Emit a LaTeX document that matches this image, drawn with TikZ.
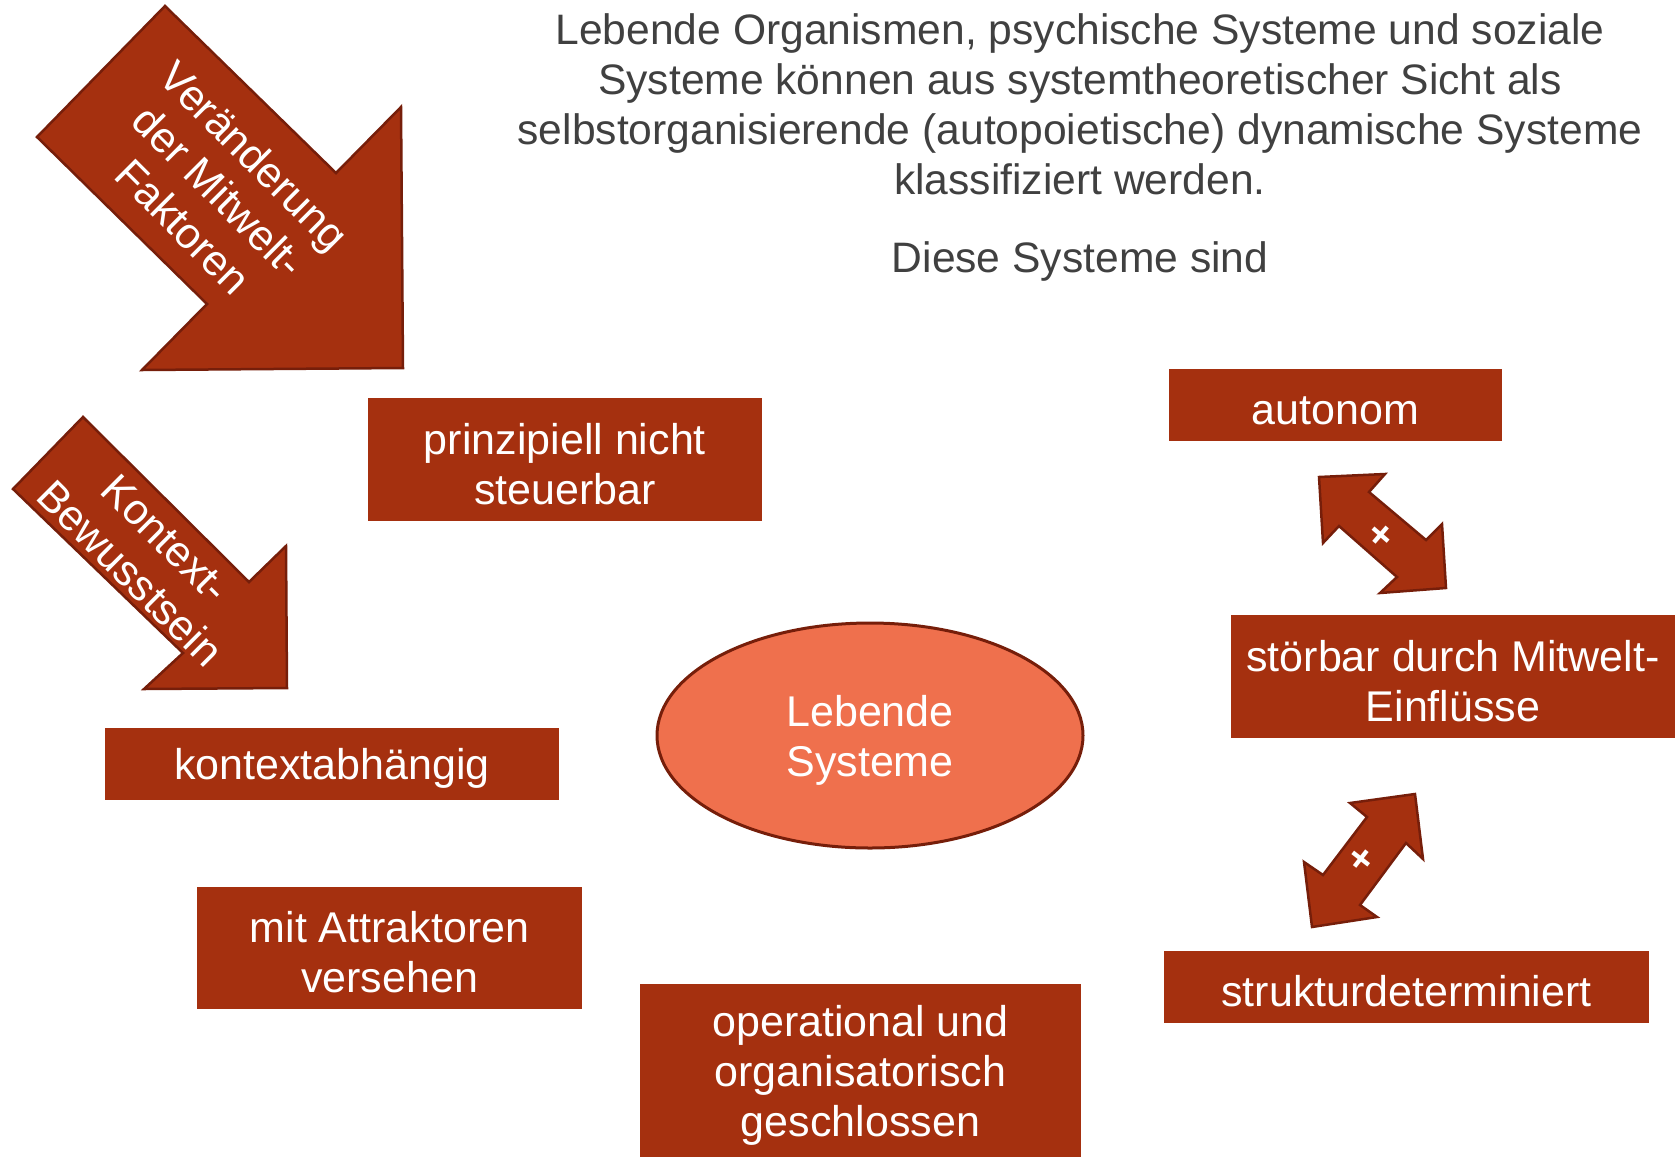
\documentclass[tikz,border=0pt]{standalone}
\usepackage{fontspec}
\setmainfont{Liberation Sans}
\usetikzlibrary{shapes.geometric}
\definecolor{boxred}{RGB}{165,48,15}
\definecolor{ellfill}{RGB}{239,112,77}
\definecolor{edgebrown}{RGB}{118,30,10}
\definecolor{titlegrey}{RGB}{64,64,64}
\newcommand{\topstrut}{\rule{0pt}{40pt}}
\tikzstyle{box}=[rectangle,fill=boxred,text=white,inner sep=0pt,align=center,font=\fontsize{43}{50}\selectfont]
\tikzstyle{blockarrow}=[fill=boxred,draw=edgebrown,line width=2.5pt,line join=miter]
\tikzstyle{arrowtext}=[text=white,inner sep=0pt,align=center,rotate=-45,font=\fontsize{43}{50}\selectfont]
\tikzstyle{plus}=[text=white,inner sep=0pt,font=\fontsize{40}{40}\selectfont\bfseries]
\tikzstyle{headline}=[text=titlegrey,inner sep=0pt,align=center,font=\fontsize{42.6}{50}\selectfont]

\begin{document}
\begin{tikzpicture}[x=1pt,y=-1pt]
    \useasboundingbox (0,0) rectangle (1675,1157);
    % Heading
    \node[headline] (intro) at (1080,104) {Lebende Organismen, psychische Systeme und soziale\\Systeme k\"onnen aus systemtheoretischer Sicht als\\selbstorganisierende (autopoietische) dynamische Systeme\\klassifiziert werden.};
    \node[headline] (sind) at (1080,261) {Diese Systeme sind};

    % Block arrows from the left
    \draw[blockarrow] (37,137) -- (165,6) -- (336,173) -- (401,107) -- (403,368) -- (142,370) -- (207,304) -- cycle;
    \node[arrowtext] (mitwelt) at (219,191) {Ver\"anderung\\der Mitwelt-\\Faktoren};
    \draw[blockarrow] (13,489) -- (83,417) -- (249,582) -- (286,546) -- (287,688) -- (144,689) -- (183,653) -- cycle;
    \node[arrowtext] (kontext) at (148,556) {Kontext-\\Bewusstsein};

    % The properties
    \foreach \pos/\name/\w/\h/\label in {{(565,459.5)/steuerbar/394/123/prinzipiell nicht\\steuerbar},
    {(1335.5,405)/autonom/333/72/autonom},
    {(1453,676.5)/stoerbar/444/123/st\"orbar durch Mitwelt-\\Einfl\"usse},
    {(332,764)/abhaengig/454/72/kontextabh\"angig},
    {(389.5,948)/attraktoren/385/122/mit Attraktoren\\versehen},
    {(860.5,1070.5)/geschlossen/441/173/operational und\\organisatorisch\\geschlossen},
    {(1406.5,987)/struktur/485/72/strukturdeterminiert}}
        \node[box,minimum width=\w pt,minimum height=\h pt] (\name) at \pos {\topstrut\label};

    \node[ellipse,fill=ellfill,draw=edgebrown,line width=3pt,minimum width=426pt,minimum height=225pt,inner sep=0pt,text=white,align=center,font=\fontsize{43}{50}\selectfont] (lebende) at (870,735.5) {\topstrut Lebende\\Systeme};

    % Double arrows on the right
    \draw[blockarrow] (1319,477) -- (1385,474) -- (1369,492) -- (1426,540) -- (1442,524) -- (1446,588) -- (1380,593) -- (1397,577) -- (1339,526) -- (1323,543) -- cycle;
    \node[plus,rotate=-41] (plusA) at (1380,536) {+};
    \draw[blockarrow] (1415,794) -- (1350,803) -- (1367,817) -- (1323,875) -- (1304,862) -- (1312,927) -- (1377,917) -- (1360,905) -- (1406,843) -- (1423,859) -- cycle;
    \node[plus,rotate=52] (plusB) at (1362,860) {+};
\end{tikzpicture}
\end{document}
